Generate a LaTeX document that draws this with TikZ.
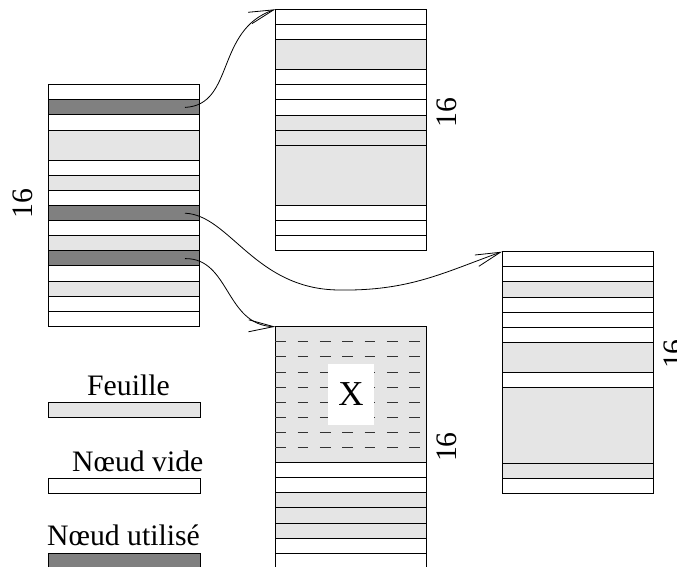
\documentclass[tikz,border=0pt]{standalone}
\usepackage{fontspec}
\setmainfont{Liberation Serif}
\usetikzlibrary{arrows.meta}
\definecolor{leafgray}{RGB}{229,229,229}
\definecolor{usedgray}{RGB}{128,128,128}
\tikzset{
  lf/.style={fill=leafgray,draw=black,line width=0.9pt},
  em/.style={fill=white,draw=black,line width=0.9pt},
  us/.style={fill=usedgray,draw=black,line width=0.9pt},
  conn/.style={-{Straight Barb[length=25pt,width=12pt]},line width=0.8pt},
  lbl/.style={inner sep=0pt,font=\fontsize{29.7}{32}\selectfont},
  sixteen/.style={inner sep=0pt,rotate=90,font=\fontsize{29.7}{32}\selectfont},
  dashrow/.style={draw=black!80,line width=0.9pt,dash pattern=on 10.7pt off 11.6pt}
}
\newcommand\drawblock[3]{%
  \foreach \c/\s/\n in {#3}{%
    \path[\c] (#1,{#2+\s*15.1}) rectangle ({#1+151.5},{#2+(\s+\n)*15.1});
  }%
}
\begin{document}
\begin{tikzpicture}[x=1pt,y=-1pt]
\useasboundingbox (0,0) rectangle (677,567);
\clip (0,0) rectangle (677,567);
% left block
\drawblock{48}{84.7}{em/0/1,us/1/1,em/2/1,lf/3/2,em/5/1,lf/6/1,em/7/1,us/8/1,em/9/1,lf/10/1,us/11/1,em/12/1,lf/13/1,em/14/1,em/15/1}
% top block
\drawblock{275.3}{9.3}{em/0/1,em/1/1,lf/2/2,em/4/1,em/5/1,em/6/1,lf/7/1,lf/8/1,lf/9/4,em/13/1,em/14/1,em/15/1}
% right block
\drawblock{502}{251.7}{em/0/1,em/1/1,lf/2/1,em/3/1,em/4/1,em/5/1,lf/6/2,em/8/1,lf/9/5,lf/14/1,em/15/1}
% bottom block
\drawblock{275.3}{326.7}{lf/0/9,em/9/1,em/10/1,lf/11/1,lf/12/1,lf/13/1,em/14/1,em/15/1}
\foreach \k in {1,...,8}{
  \draw[dashrow] (275.3,{326.7+\k*15.1}) -- (426.8,{326.7+\k*15.1});
}
\node[fill=white,minimum width=46pt,minimum height=61pt,inner sep=0pt,font=\fontsize{35}{38}\selectfont] (X) at (351,394.5) {X};
% coordinates
\coordinate (a1) at (185,107.4);
\coordinate (a2) at (185,213.2);
\coordinate (a3) at (185,258.6);
\coordinate (Ttl) at (275.3,9.3);
\coordinate (Rtl) at (502,251.7);
\coordinate (Btl) at (275.3,326.7);
% connectors
\draw[conn] (a1) .. controls (235,105) and (215,30) .. (Ttl);
\draw[conn] (a2) .. controls (230,215) and (255,290) .. (340,290) .. controls (410,291) and (445,272) .. (Rtl);
\draw[conn] (a3) .. controls (230,258) and (225,325) .. (Btl);
% labels 16
\node[sixteen] (n1) at (22.5,203.5) {16};
\node[sixteen] (n2) at (446.7,113) {16};
\node[sixteen] (n3) at (446.5,447) {16};
\node[sixteen] (n4) at (674,354) {16};
% legend
\path[lf] (48,402.3) rectangle (200,417.7);
\path[em] (48,478.3) rectangle (200,493.3);
\path[us] (48,553.3) rectangle (200,568.5);
\node[lbl,anchor=base west] (t1) at (87,395) {Feuille};
\node[lbl,anchor=base west] (t2) at (72,471.7) {Nœud vide};
\node[lbl,anchor=base west] (t3) at (47,545) {Nœud utilisé};
\end{tikzpicture}
\end{document}
